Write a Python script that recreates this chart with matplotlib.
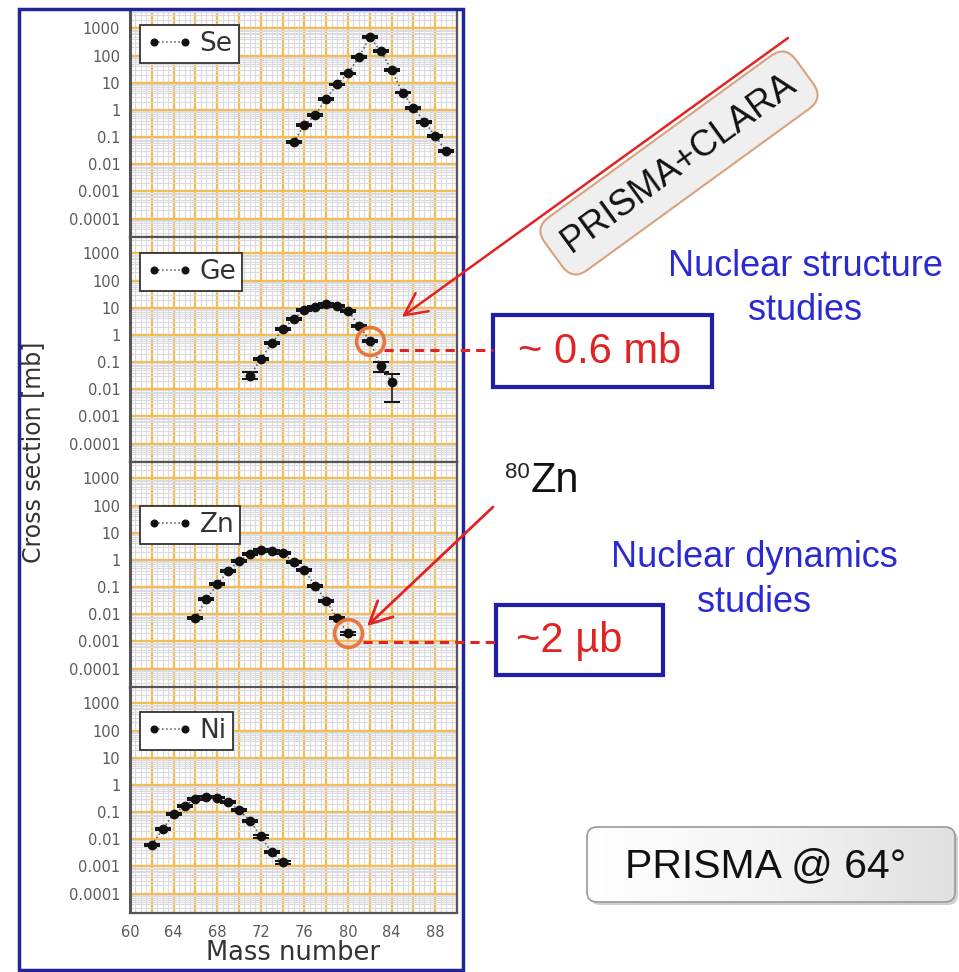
import numpy as np
import matplotlib
matplotlib.use('Agg')
import matplotlib.pyplot as plt
from matplotlib.ticker import FixedLocator, MultipleLocator, LogLocator, FuncFormatter, NullFormatter
from matplotlib.patches import Rectangle, FancyBboxPatch, FancyArrowPatch
from matplotlib.colors import LinearSegmentedColormap

plt.rcParams['font.family'] = ['DejaVu Sans']

# isotopic distributions, cross sections in mb
se_mass = [75, 76, 77, 78, 79, 80, 81, 82, 83, 84, 85, 86, 87, 88, 89]
se_xs = [0.066, 0.27, 0.65, 2.6, 8.7, 22, 87, 480, 145, 29, 4.3, 1.2, 0.37, 0.11, 0.03]
se_lo = [0.006, 0.02, 0.05, 0.2, 0.6, 1.5, 6, 30, 10, 2, 0.3, 0.08, 0.03, 0.01, 0.003]
se_hi = [0.006, 0.02, 0.05, 0.2, 0.6, 1.5, 6, 30, 10, 2, 0.3, 0.08, 0.03, 0.01, 0.003]

ge_mass = [71, 72, 73, 74, 75, 76, 77, 78, 79, 80, 81, 82, 83, 84]
ge_xs = [0.031, 0.13, 0.49, 1.6, 3.9, 8.2, 10.5, 14, 11.8, 7.8, 2.2, 0.6, 0.071, 0.019]
ge_lo = [0.008, 0.015, 0.04, 0.12, 0.3, 0.6, 0.8, 1.0, 0.9, 0.6, 0.2, 0.06, 0.027, 0.0156]
ge_hi = [0.013, 0.015, 0.04, 0.12, 0.3, 0.6, 0.8, 1.0, 0.9, 0.6, 0.2, 0.06, 0.029, 0.017]

zn_mass = [66, 67, 68, 69, 70, 71, 72, 73, 74, 75, 76, 77, 78, 79, 80]
zn_xs = [0.0072, 0.035, 0.125, 0.39, 0.92, 1.6, 2.3, 2.1, 1.75, 0.85, 0.42, 0.11, 0.031, 0.0071, 0.002]
zn_lo = [0.0007, 0.003, 0.01, 0.03, 0.07, 0.12, 0.15, 0.15, 0.12, 0.06, 0.03, 0.01, 0.003, 0.0007, 0.0003]
zn_hi = [0.0007, 0.003, 0.01, 0.03, 0.07, 0.12, 0.15, 0.15, 0.12, 0.06, 0.03, 0.01, 0.003, 0.0007, 0.0003]

ni_mass = [62, 63, 64, 65, 66, 67, 68, 69, 70, 71, 72, 73, 74]
ni_xs = [0.0063, 0.023, 0.085, 0.17, 0.30, 0.37, 0.34, 0.23, 0.12, 0.048, 0.0126, 0.0033, 0.0014]
ni_lo = [0.0006, 0.002, 0.007, 0.012, 0.02, 0.025, 0.025, 0.02, 0.01, 0.004, 0.0012, 0.0003, 0.00015]
ni_hi = [0.0006, 0.002, 0.007, 0.012, 0.02, 0.025, 0.025, 0.02, 0.01, 0.004, 0.0012, 0.0003, 0.00015]

elements = ['Se', 'Ge', 'Zn', 'Ni']
masses = [se_mass, ge_mass, zn_mass, ni_mass]
xsecs = [se_xs, ge_xs, zn_xs, ni_xs]
err_lo = [se_lo, ge_lo, zn_lo, ni_lo]
err_hi = [se_hi, ge_hi, zn_hi, ni_hi]

decade_ticks = [1e-4, 1e-3, 1e-2, 1e-1, 1, 10, 100, 1000]

W, H = 959, 972
fig = plt.figure(figsize=(W / 100, H / 100), dpi=100)

left, right = 130, 457
panel_tops = [12, 237, 462, 687]
panel_h = 225.5
legend_y = [0.858, 0.844, 0.72, 0.804]

orange = '#F3BC55'
axes = []
for i, name in enumerate(elements):
    top = panel_tops[i]
    ax = fig.add_axes([left / W, 1 - (top + panel_h) / H, (right - left) / W, panel_h / H])
    ax.set_xlim(60, 90)
    ax.set_yscale('log')
    ax.set_ylim(2e-5, 4e3)

    ax.xaxis.set_major_locator(MultipleLocator(2))
    ax.xaxis.set_minor_locator(MultipleLocator(0.5))
    ax.xaxis.set_major_formatter(FuncFormatter(lambda v, p: f'{v:.0f}' if v % 4 == 0 else ''))
    ax.yaxis.set_major_locator(FixedLocator(decade_ticks))
    ax.yaxis.set_major_formatter(FuncFormatter(lambda v, p: f'{v:g}'))
    ax.yaxis.set_minor_locator(LogLocator(base=10, subs=np.arange(2, 10), numticks=30))
    ax.yaxis.set_minor_formatter(NullFormatter())

    ax.grid(which='minor', color='#DADADF', lw=0.8)
    ax.grid(which='major', color=orange, lw=1.7)
    ax.set_axisbelow(True)
    ax.tick_params(which='both', length=0)
    ax.tick_params(axis='y', labelsize=10.5, labelcolor='#5A5A5A', pad=7)
    ax.tick_params(axis='x', labelsize=10.5, labelcolor='#5A5A5A', pad=9,
                   labelbottom=(i == len(elements) - 1))
    for side, sp in ax.spines.items():
        sp.set_color('#555555')
        sp.set_linewidth(1.6)
    ax.spines['left'].set_linewidth(2.2)
    if i == 0:
        ax.spines['top'].set_visible(False)

    ax.errorbar(masses[i], xsecs[i], yerr=[err_lo[i], err_hi[i]], fmt='none',
                ecolor='#111111', elinewidth=1.1, capsize=5.5, capthick=1.4, zorder=3)
    ax.plot(masses[i], xsecs[i], ls=':', color='#555555', lw=1.1, marker='o', ms=6,
            mfc='#111111', mec='#111111', label=name, zorder=4)

    leg = ax.legend(loc='center left', bbox_to_anchor=(0.03, legend_y[i]), fontsize=19,
                    frameon=True, fancybox=False, edgecolor='#333333', framealpha=1,
                    borderpad=0.22, handlelength=1.8, handletextpad=0.25, borderaxespad=0,
                    numpoints=2, markerscale=0.8)
    leg.get_frame().set_linewidth(1.3)
    for t in leg.get_texts():
        t.set_color('#333333')
    axes.append(ax)

ax_se, ax_ge, ax_zn, ax_ni = axes

fig.text(33 / W, 1 - 452 / H, 'Cross section [mb]', rotation=90, ha='center', va='center',
         fontsize=17, color='#333333')
fig.text((left + right) / 2 / W, 1 - 953 / H, 'Mass number', ha='center', va='center',
         fontsize=18.5, color='#333333')

# highlighted points: 82Ge and 80Zn
ring = '#E8773F'
ax_ge.plot(ge_mass[11], ge_xs[11], marker='o', ms=20, mfc='none', mec=ring, mew=2.6,
           clip_on=False, zorder=6)
ax_zn.plot(zn_mass[14], zn_xs[14], marker='o', ms=20, mfc='none', mec=ring, mew=2.6,
           clip_on=False, zorder=6)

# overlay in pixel coordinates for the annotations
ov = fig.add_axes([0, 0, 1, 1], zorder=10)
ov.axis('off')


def to_px(ax, x, y):
    dx, dy = ax.transData.transform((x, y))
    return dx, H - dy


red = '#E02424'
blue = '#1E1EA8'
text_blue = '#2A2AD2'
sans = 'Liberation Sans'

# outer frame around the distributions
ov.add_patch(Rectangle((19, 9), 444, 961, fill=False, ec='#23239C', lw=2.5))

gx, gy = to_px(ax_ge, ge_mass[11], ge_xs[11])
zx, zy = to_px(ax_zn, zn_mass[14], zn_xs[14])

ov.plot([gx + 14, 493], [gy + 9, gy + 9], color=red, lw=2.2, ls=(0, (3, 2)))
ov.plot([zx + 15, 496], [zy + 9, zy + 9], color=red, lw=2.2, ls=(0, (3, 2)))

ov.add_patch(FancyArrowPatch((788, 38), (gx + 32, gy - 24), arrowstyle='->,head_length=0.8,head_width=0.4',
                             mutation_scale=20, color=red, lw=1.8, shrinkA=0, shrinkB=0))
ov.add_patch(FancyArrowPatch((493, 507), (zx + 19, zy - 7), arrowstyle='->,head_length=0.8,head_width=0.4',
                             mutation_scale=20, color=red, lw=2.0, shrinkA=0, shrinkB=0))

# value boxes
ov.add_patch(Rectangle((493, 315), 219, 72, fill=False, ec=blue, lw=3))
ov.text(600, 352, '~ 0.6 mb', ha='center', va='center', fontsize=30, color=red, family=sans)
ov.add_patch(Rectangle((496, 605), 167, 70, fill=False, ec=blue, lw=3))
ov.text(569, 641, '~2 \u00b5b', ha='center', va='center', fontsize=30, color=red, family=sans)

ov.text(805, 266, 'Nuclear structure', ha='center', va='center', fontsize=26, color=text_blue, family=sans)
ov.text(805, 310, 'studies', ha='center', va='center', fontsize=26, color=text_blue, family=sans)
ov.text(754, 557, 'Nuclear dynamics', ha='center', va='center', fontsize=26, color=text_blue, family=sans)
ov.text(754, 602, 'studies', ha='center', va='center', fontsize=26, color=text_blue, family=sans)

ov.text(505, 478, '80', ha='left', va='baseline', fontsize=16, color='#222222', family=sans)
ov.text(531, 492, 'Zn', ha='left', va='baseline', fontsize=30, color='#111111', family=sans)

ov.text(679, 163, 'PRISMA+CLARA', rotation=36, rotation_mode='anchor', ha='center', va='center',
        fontsize=26, color='#111111', family=sans,
        bbox=dict(boxstyle='round,pad=0.42,rounding_size=0.5', fc='#EFEFEF', ec='#D9A27E', lw=1.5))

# detector setup label with a soft gradient fill
ov.add_patch(FancyBboxPatch((590, 830), 368, 75, boxstyle='round,pad=0,rounding_size=10',
                            fc='#CFCFCF', ec='none', zorder=1))
box = FancyBboxPatch((587, 827), 368, 75, boxstyle='round,pad=0,rounding_size=10',
                     fc='none', ec='#9A9A9A', lw=1.2, zorder=3)
ov.add_patch(box)
grad = np.linspace(0, 1, 256).reshape(1, -1)
cmap = LinearSegmentedColormap.from_list('box', ['#FFFFFF', '#F4F4F4', '#E0E0E0'])
im = ov.imshow(grad, extent=(587, 955, 902, 827), cmap=cmap, aspect='auto', zorder=2)
im.set_clip_path(box)
ov.text(766, 866, 'PRISMA @ 64\u00b0', ha='center', va='center', fontsize=29.5,
        color='#111111', family=sans, zorder=4)

ov.set_xlim(0, W)
ov.set_ylim(H, 0)

fig.savefig('out.png', dpi=100)
